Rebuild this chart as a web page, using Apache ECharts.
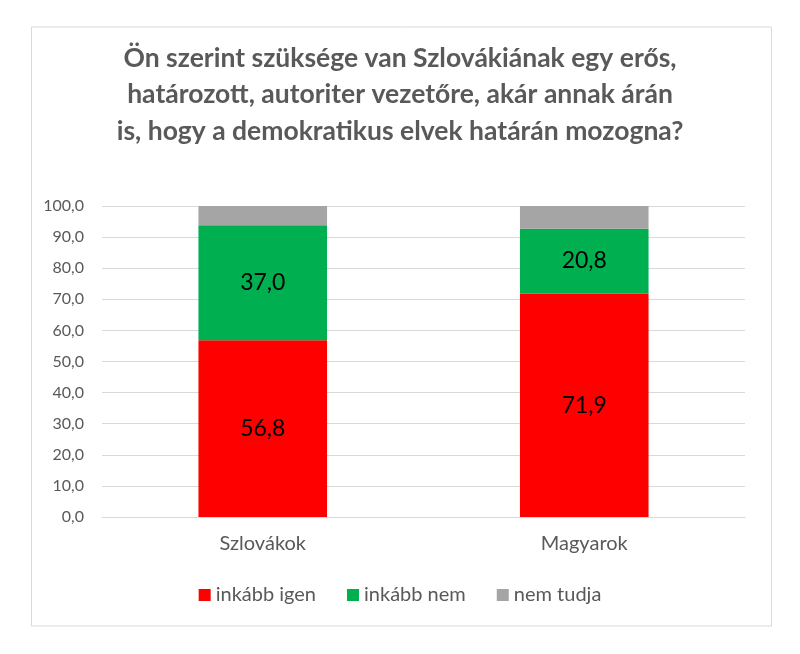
<!DOCTYPE html>
<html>
<head>
<meta charset="utf-8">
<script src="https://cdn.jsdelivr.net/npm/echarts@6/dist/echarts.min.js"></script>
<style>
html,body{margin:0;padding:0;background:#fff;}
#c{width:800px;height:654px;}
</style>
</head>
<body>
<div id="c"></div>
<script>
var categories = ['Szlovákok', 'Magyarok'];
var igen = [56.8, 71.9];
var nem = [37.0, 20.8];
var nemTudja = [6.2, 7.3];
var seriesNames = ['inkább igen', 'inkább nem', 'nem tudja'];
var titleText = 'Ön szerint szüksége van Szlovákiának egy erős,\nhatározott, autoriter vezetőre, akár annak árán\nis, hogy a demokratikus elvek határán mozogna?';

var FONT = 'Lato, "Open Sans", sans-serif';
var chart = echarts.init(document.getElementById('c'), null, {renderer: 'canvas'});
function fmt(v) { return v.toFixed(1).replace('.', ','); }
var labelCfg = {
  show: true, position: 'inside', color: '#000', fontSize: 23, fontFamily: FONT,
  formatter: function (p) { return fmt(p.value); }
};
chart.setOption({
  animation: false,
  graphic: [{
    type: 'rect', left: 29, top: 24.5, shape: {width: 740, height: 599},
    style: {fill: 'none', stroke: '#d9d9d9', lineWidth: 1}, silent: true
  }],
  title: {
    text: titleText, left: 'center', top: 35,
    textStyle: {fontFamily: FONT, fontWeight: 'bold', fontSize: 26.5, color: '#595959', lineHeight: 36.5}
  },
  legend: {
    data: seriesNames, top: 580, left: 'center', itemWidth: 12, itemHeight: 12, itemGap: 31,
    icon: 'rect',
    textStyle: {fontFamily: FONT, fontSize: 20, color: '#595959'}
  },
  grid: {left: 102, right: 55, top: 206, bottom: 137, containLabel: false},
  xAxis: {
    type: 'category', data: categories,
    axisLine: {show: true, lineStyle: {color: '#d9d9d9'}}, axisTick: {show: false},
    axisLabel: {fontFamily: FONT, fontSize: 20, color: '#595959', margin: 17}
  },
  yAxis: {
    type: 'value', min: 0, max: 100, interval: 10,
    axisLine: {show: false}, axisTick: {show: false},
    splitLine: {lineStyle: {color: '#d9d9d9', width: 1}},
    axisLabel: {fontFamily: FONT, fontSize: 16, color: '#595959', margin: 18, formatter: fmt}
  },
  series: [
    {name: seriesNames[0], type: 'bar', stack: 's', data: igen, barWidth: '40%', itemStyle: {color: '#FF0000'}, label: labelCfg},
    {name: seriesNames[1], type: 'bar', stack: 's', data: nem, barWidth: '40%', itemStyle: {color: '#00B050'}, label: labelCfg},
    {name: seriesNames[2], type: 'bar', stack: 's', data: nemTudja, barWidth: '40%', itemStyle: {color: '#A5A5A5'}, label: {show: false}}
  ]
});
</script>
</body>
</html>
